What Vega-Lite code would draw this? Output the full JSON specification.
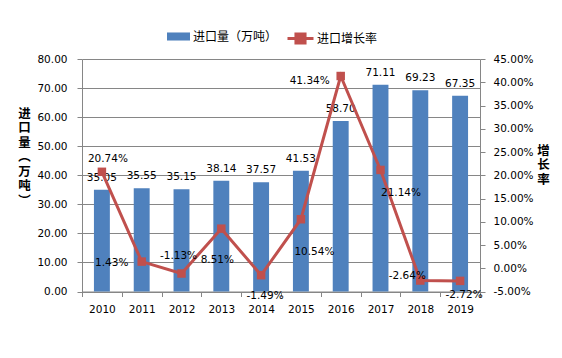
{
  "$schema": "https://vega.github.io/schema/vega-lite/v6.json",
  "width": 398,
  "height": 232.5,
  "autosize": "none",
  "padding": {"left": 82, "top": 59, "right": 82, "bottom": 66.5},
  "background": "white",
  "config": {
    "view": {"stroke": null},
    "locale": {"number": {"decimal": ".", "thousands": ",", "grouping": [3], "currency": ["", ""], "minus": "-"}},
    "axis": {"labelFont": "DejaVu Sans", "labelFontSize": 10.5, "labelColor": "#000000", "domainColor": "#868686", "tickColor": "#868686", "tickSize": 5, "gridColor": "#868686", "titleColor": "#000000"},
    "text": {"font": "DejaVu Sans", "fontSize": 10.5, "color": "#000000"}
  },
  "data": {"values": [
    {"year": "2010", "volume": 35.05, "growth": 0.2074},
    {"year": "2011", "volume": 35.55, "growth": 0.0143},
    {"year": "2012", "volume": 35.15, "growth": -0.0113},
    {"year": "2013", "volume": 38.14, "growth": 0.0851},
    {"year": "2014", "volume": 37.57, "growth": -0.0149},
    {"year": "2015", "volume": 41.53, "growth": 0.1054},
    {"year": "2016", "volume": 58.70, "growth": 0.4134},
    {"year": "2017", "volume": 71.11, "growth": 0.2114},
    {"year": "2018", "volume": 69.23, "growth": -0.0264},
    {"year": "2019", "volume": 67.35, "growth": -0.0272}
  ]},
  "encoding": {
    "x": {"field": "year", "type": "ordinal", "scale": {"type": "band", "paddingInner": 0, "paddingOuter": 0},
      "axis": {"title": null, "labelAngle": 0, "tickBand": "extent", "labelPadding": 8, "labelBaseline": "top", "grid": false}}
  },
  "layer": [
    {
      "encoding": {
        "y": {"field": "volume", "type": "quantitative", "scale": {"domain": [0, 80], "nice": false},
          "axis": {"orient": "left", "values": [0, 10, 20, 30, 40, 50, 60, 70, 80], "format": ".2f", "grid": true, "labelPadding": 10,
            "title": ["进", "口", "量", "︵", "万", "吨", "︶"], "titleAngle": 0, "titleX": -58, "titleY": 48, "titleAlign": "center", "titleBaseline": "top",
            "titleFont": "Noto Sans CJK SC", "titleFontSize": 12.5, "titleFontWeight": "bold", "titleLineHeight": 14.5}}
      },
      "layer": [
        {
          "mark": {"type": "bar", "width": {"band": 0.4}},
          "encoding": {
            "fill": {"datum": "进口量（万吨）", "scale": {"range": ["#4F81BD"]},
              "legend": {"orient": "none", "legendX": 85, "legendY": -34, "title": null, "padding": 0,
                "symbolType": "M-1,-0.35H1V0.35H-1Z", "symbolSize": 529, "symbolStrokeWidth": 0,
                "labelFont": "Noto Sans CJK SC", "labelFontSize": 12, "labelColor": "#000000", "labelOffset": 3}}
          }
        },
        {
          "mark": {"type": "text", "baseline": "middle", "dy": -12},
          "encoding": {"text": {"field": "volume", "type": "quantitative", "format": ".2f"}}
        }
      ]
    },
    {
      "encoding": {
        "y": {"field": "growth", "type": "quantitative", "scale": {"domain": [-0.05, 0.45], "nice": false},
          "axis": {"orient": "right", "values": [-0.05, 0, 0.05, 0.1, 0.15, 0.2, 0.25, 0.3, 0.35, 0.4, 0.45], "format": ".2%", "grid": false, "labelPadding": 8,
            "title": ["增", "长", "率"], "titleAngle": 0, "titleX": 63, "titleY": 85, "titleAlign": "center", "titleBaseline": "top",
            "titleFont": "Noto Sans CJK SC", "titleFontSize": 12.5, "titleFontWeight": "bold", "titleLineHeight": 14.5}}
      },
      "layer": [
        {
          "mark": {"type": "line", "strokeWidth": 3},
          "encoding": {
            "stroke": {"datum": "进口增长率", "scale": {"range": ["#C0504D"]},
              "legend": {"orient": "none", "legendX": 204, "legendY": -35, "title": null, "padding": 0,
                "symbolType": "M-1,0H1M-0.35,-0.35H0.35V0.35H-0.35Z", "symbolSize": 676, "symbolStrokeWidth": 3, "symbolFillColor": "#C0504D",
                "labelFont": "Noto Sans CJK SC", "labelFontSize": 12, "labelColor": "#000000", "labelOffset": 2,
                "encode": {"symbols": {"update": {"fill": {"value": "#C0504D"}}}}}}
          }
        },
        {"mark": {"type": "point", "shape": "square", "filled": true, "size": 72, "color": "#C0504D", "opacity": 1}},
        {"transform": [{"filter": "datum.year == '2010'"}], "mark": {"type": "text", "dx": 6, "dy": -12.5}, "encoding": {"text": {"field": "growth", "type": "quantitative", "format": ".2%"}}},
        {"transform": [{"filter": "datum.year == '2011'"}], "mark": {"type": "text", "dx": -30, "dy": 1}, "encoding": {"text": {"field": "growth", "type": "quantitative", "format": ".2%"}}},
        {"transform": [{"filter": "datum.year == '2012'"}], "mark": {"type": "text", "dx": -3, "dy": -18}, "encoding": {"text": {"field": "growth", "type": "quantitative", "format": ".2%"}}},
        {"transform": [{"filter": "datum.year == '2013'"}], "mark": {"type": "text", "dx": -4, "dy": 31.5}, "encoding": {"text": {"field": "growth", "type": "quantitative", "format": ".2%"}}},
        {"transform": [{"filter": "datum.year == '2014'"}], "mark": {"type": "text", "dx": 4, "dy": 21}, "encoding": {"text": {"field": "growth", "type": "quantitative", "format": ".2%"}}},
        {"transform": [{"filter": "datum.year == '2015'"}], "mark": {"type": "text", "dx": 13.5, "dy": 33}, "encoding": {"text": {"field": "growth", "type": "quantitative", "format": ".2%"}}},
        {"transform": [{"filter": "datum.year == '2016'"}], "mark": {"type": "text", "dx": -31, "dy": 5}, "encoding": {"text": {"field": "growth", "type": "quantitative", "format": ".2%"}}},
        {"transform": [{"filter": "datum.year == '2017'"}], "mark": {"type": "text", "dx": 20.5, "dy": 23.5}, "encoding": {"text": {"field": "growth", "type": "quantitative", "format": ".2%"}}},
        {"transform": [{"filter": "datum.year == '2018'"}], "mark": {"type": "text", "dx": -13, "dy": -4.5}, "encoding": {"text": {"field": "growth", "type": "quantitative", "format": ".2%"}}},
        {"transform": [{"filter": "datum.year == '2019'"}], "mark": {"type": "text", "dx": 4, "dy": 14}, "encoding": {"text": {"field": "growth", "type": "quantitative", "format": ".2%"}}}
      ]
    }
  ],
  "resolve": {"scale": {"y": "independent"}}
}
